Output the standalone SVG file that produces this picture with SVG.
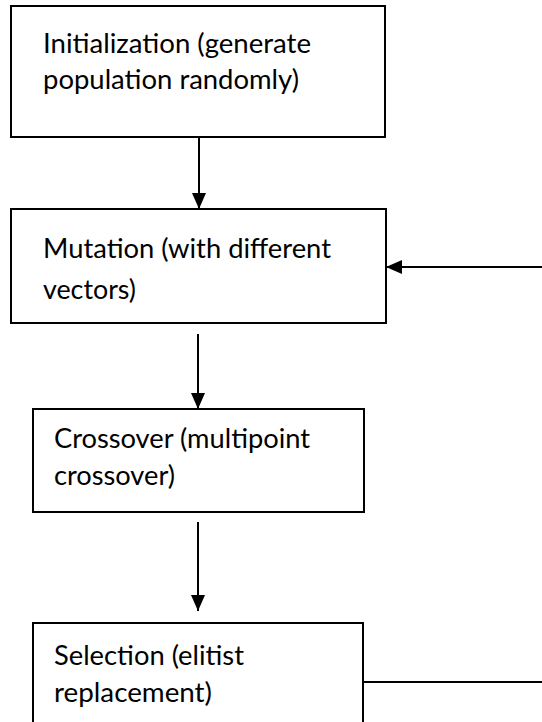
<svg xmlns="http://www.w3.org/2000/svg" width="542" height="722" viewBox="0 0 542 722">
  <style>
    .box { fill: #ffffff; stroke: #000000; stroke-width: 2; }
    .lbl { font-family: Lato, "Liberation Sans", sans-serif; font-size: 26px; fill: #000000; }
    .conn { stroke: #000000; stroke-width: 2; fill: none; }
  </style>
  <defs>
    <marker id="arrow" markerUnits="userSpaceOnUse" markerWidth="16" markerHeight="14" refX="16" refY="7" orient="auto">
      <path d="M0,0 L16,7 L0,14 Z" fill="#000000"/>
    </marker>
  </defs>
  <rect width="542" height="722" fill="#ffffff"/>
  <g id="init">
    <rect class="box" x="11" y="6" width="374" height="131"/>
    <text class="lbl" x="43" y="53" textLength="268" lengthAdjust="spacingAndGlyphs">Initialization (generate</text>
    <text class="lbl" x="43" y="89" textLength="256" lengthAdjust="spacingAndGlyphs">population randomly)</text>
  </g>
  <g id="mutation">
    <rect class="box" x="11" y="209" width="375" height="114"/>
    <text class="lbl" x="43" y="258" textLength="288" lengthAdjust="spacingAndGlyphs">Mutation (with different</text>
    <text class="lbl" x="43" y="299" textLength="93" lengthAdjust="spacingAndGlyphs">vectors)</text>
  </g>
  <g id="crossover">
    <rect class="box" x="33" y="409" width="331" height="103"/>
    <text class="lbl" x="54" y="448" textLength="256" lengthAdjust="spacingAndGlyphs">Crossover (multipoint</text>
    <text class="lbl" x="54" y="485" textLength="121" lengthAdjust="spacingAndGlyphs">crossover)</text>
  </g>
  <g id="selection">
    <rect class="box" x="33" y="623" width="330" height="130"/>
    <text class="lbl" x="54" y="665" textLength="190" lengthAdjust="spacingAndGlyphs">Selection (elitist</text>
    <text class="lbl" x="54" y="702" textLength="158" lengthAdjust="spacingAndGlyphs">replacement)</text>
  </g>
  <g id="connectors">
    <line class="conn" x1="199" y1="137" x2="199" y2="209" marker-end="url(#arrow)"/>
    <line class="conn" x1="198" y1="334" x2="198" y2="409" marker-end="url(#arrow)"/>
    <line class="conn" x1="198" y1="522" x2="198" y2="611" marker-end="url(#arrow)"/>
    <line class="conn" x1="363" y1="682" x2="542" y2="682"/>
    <line class="conn" x1="542" y1="267" x2="386" y2="267" marker-end="url(#arrow)"/>
  </g>
</svg>
